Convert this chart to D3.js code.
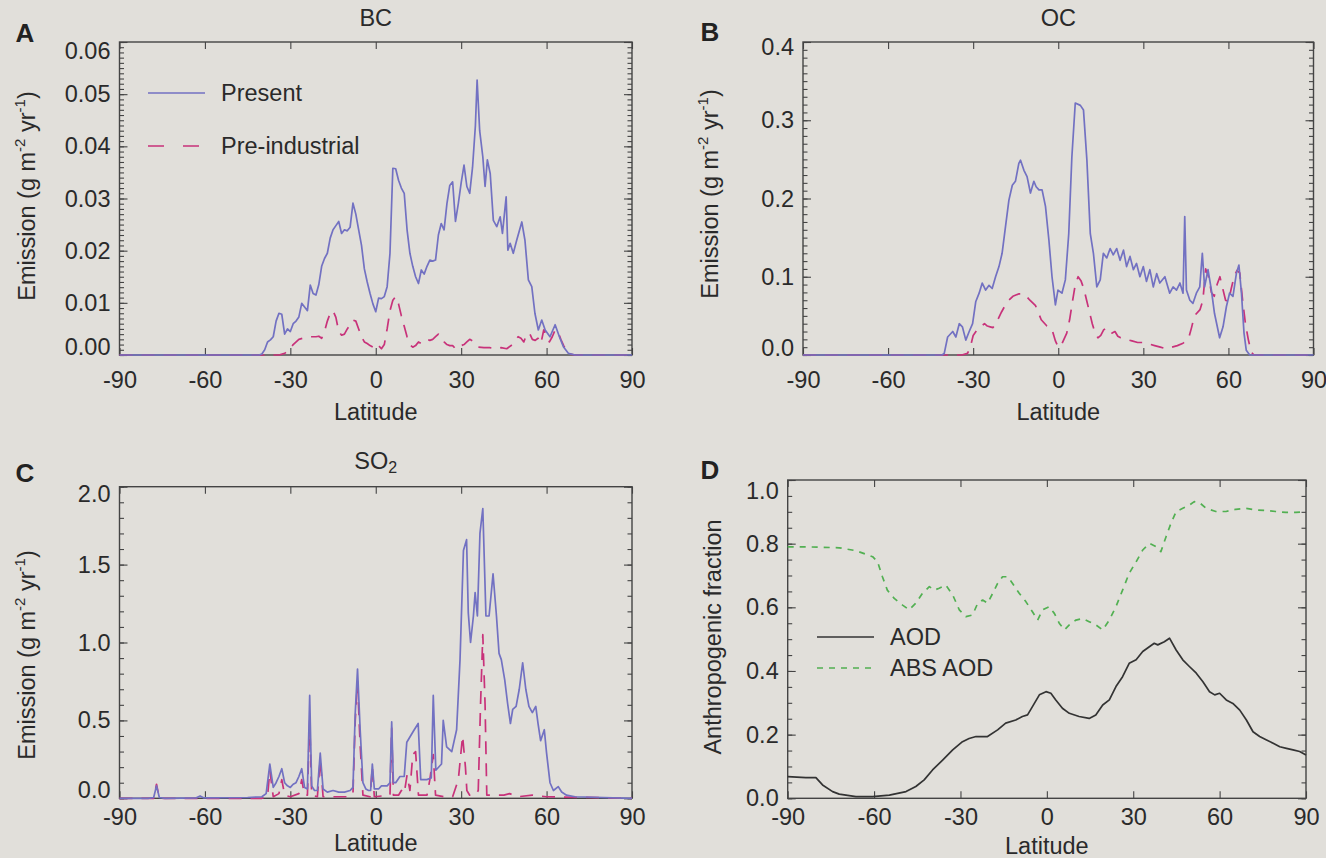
<!DOCTYPE html>
<html>
<head>
<meta charset="utf-8">
<script src="https://cdn.jsdelivr.net/npm/d3@7"></script>
<style>
  body { margin: 0; background: #e1dfda; }
  svg { display: block; font-family: "Liberation Sans", Arial, Helvetica, sans-serif; }
</style>
</head>
<body>
<svg id="fig" width="1326" height="858"></svg>
<script>
// latitude ticks shared by all panels
const latTicks = [-90, -60, -30, 0, 30, 60, 90]

// [latitude, value] pairs
const bcPresent = [[-90,0],[-60,0],[-45,0],[-41,0],[-40,0.0002],[-39,0.001],[-38,0.0025],[-37,0.0029],[-36,0.0035],[-35,0.0065],[-34,0.008],[-33,0.0078],[-32,0.004],[-31,0.005],[-30,0.0045],[-29,0.006],[-28,0.0065],[-27,0.0073],[-26,0.0099],[-25,0.0092],[-24,0.0085],[-23,0.0134],[-22,0.0118],[-21,0.0115],[-20,0.0135],[-19,0.017],[-18,0.0185],[-17,0.0195],[-16,0.0224],[-15,0.024],[-14,0.0248],[-13,0.0256],[-12,0.0233],[-11,0.024],[-10,0.0238],[-9,0.0245],[-8,0.0291],[-7,0.027],[-6,0.024],[-5,0.021],[-4,0.0165],[-3,0.014],[-2,0.0118],[-1,0.0098],[0,0.0083],[1,0.0109],[2,0.0108],[3,0.0112],[4,0.0131],[5,0.0195],[6,0.0358],[7,0.0357],[8,0.0335],[9,0.032],[10,0.031],[11,0.024],[12,0.0195],[13,0.017],[14,0.015],[15,0.0137],[16,0.0163],[17,0.0155],[18,0.017],[19,0.0182],[20,0.018],[21,0.0182],[22,0.023],[23,0.0252],[24,0.024],[25,0.029],[26,0.0325],[27,0.0332],[28,0.0256],[29,0.029],[30,0.033],[31,0.0364],[32,0.0323],[33,0.031],[34,0.036],[35,0.044],[35.6,0.0527],[36.5,0.043],[37.6,0.038],[38.4,0.0323],[39.2,0.0374],[40.2,0.0348],[41.3,0.0258],[42.5,0.0246],[43.7,0.0265],[44.5,0.0233],[45.8,0.0303],[46.4,0.0201],[47.2,0.0214],[48.3,0.0195],[49.5,0.022],[51.3,0.0255],[52.4,0.022],[53.6,0.0144],[54.8,0.0131],[55.9,0.008],[57.1,0.0048],[58.3,0.0067],[59.5,0.0048],[61.2,0.0035],[63,0.0058],[64.5,0.0035],[65.9,0.0016],[67.7,0.0003],[70,0],[90,0]]
const bcPre = [[-90,0],[-34,0],[-32,0.0003],[-30,0.0012],[-29,0.002],[-27,0.003],[-25,0.0033],[-23,0.0035],[-21,0.0035],[-20,0.0036],[-19,0.0032],[-18,0.0045],[-17,0.0065],[-16,0.008],[-15,0.0085],[-14,0.0072],[-13,0.0045],[-12,0.0038],[-11,0.004],[-10,0.005],[-9,0.0058],[-8,0.0067],[-7,0.0065],[-6,0.005],[-5,0.0035],[-4,0.0025],[-3,0.0022],[-2,0.0018],[-1,0.0015],[0,0.0022],[1,0.0018],[2,0.0012],[3,0.002],[4,0.005],[5,0.0085],[6,0.0105],[7,0.0112],[8,0.0098],[9,0.0075],[10,0.0055],[11,0.0035],[12,0.002],[13,0.0015],[14,0.0018],[15,0.0025],[16,0.0022],[17,0.0025],[18,0.003],[19,0.0028],[20,0.003],[21,0.0035],[22,0.004],[23,0.0035],[24,0.0025],[25,0.002],[26,0.0018],[27,0.0018],[28,0.0012],[29,0.0012],[30,0.0018],[31,0.002],[32,0.0025],[33,0.003],[34,0.0027],[35,0.002],[36,0.0015],[38,0.0014],[40,0.0014],[42,0.0012],[44,0.0014],[46,0.0012],[48,0.002],[50,0.0035],[51,0.0032],[52,0.0025],[53,0.004],[54,0.0042],[55,0.003],[56,0.0028],[57,0.0032],[58,0.0022],[59,0.0048],[60,0.004],[61,0.0025],[62,0.0035],[63,0.0048],[64,0.0045],[65,0.003],[66,0.0018],[67,0.0008],[68,0.0002],[70,0],[90,0]]

const ocPresent = [[-90,0],[-41,0],[-40.2,0.002],[-39,0.023],[-37.2,0.03],[-36.1,0.023],[-34.9,0.04],[-33.8,0.036],[-32.6,0.019],[-31.4,0.03],[-30.2,0.04],[-29.1,0.068],[-27.9,0.079],[-26.8,0.092],[-25.6,0.083],[-24.4,0.089],[-23.3,0.085],[-22.1,0.1],[-20.9,0.113],[-19.8,0.13],[-18.6,0.164],[-17.4,0.198],[-16.2,0.217],[-15.1,0.222],[-13.9,0.245],[-13.3,0.249],[-12.1,0.236],[-11,0.228],[-9.8,0.207],[-8.6,0.222],[-7.8,0.215],[-6.8,0.211],[-5.7,0.211],[-4.5,0.19],[-3.3,0.147],[-2.2,0.1],[-1,0.064],[-0.1,0.083],[1.3,0.079],[2.5,0.096],[3.7,0.155],[4.8,0.253],[6,0.322],[7.8,0.319],[8.9,0.313],[10.1,0.249],[11.3,0.155],[12.4,0.13],[13.6,0.087],[14.8,0.096],[15.9,0.13],[17.1,0.124],[18.3,0.136],[19.4,0.128],[20.6,0.136],[21.8,0.121],[23,0.134],[24.1,0.113],[25.3,0.126],[26.5,0.109],[27.6,0.117],[28.8,0.1],[30,0.113],[31.1,0.094],[32.3,0.109],[33.5,0.087],[34.7,0.104],[35.8,0.092],[37.6,0.1],[39.3,0.079],[40.5,0.087],[41.7,0.083],[42.9,0.092],[44,0.079],[44.6,0.177],[45.2,0.083],[46.4,0.07],[47.5,0.066],[48.7,0.079],[49.9,0.087],[50.8,0.13],[51.6,0.087],[52.8,0.109],[54,0.083],[55.1,0.053],[56.9,0.022],[58.1,0.036],[59.3,0.062],[60.4,0.079],[61.6,0.075],[62.8,0.104],[63.7,0.115],[64.6,0.079],[65.5,0.028],[66.3,0.006],[67.5,0],[90,0]]
const ocPre = [[-90,0],[-34,0],[-32,0.002],[-31,0.01],[-30,0.025],[-28,0.035],[-26,0.04],[-25,0.037],[-24,0.036],[-23,0.035],[-22,0.04],[-20,0.055],[-18,0.068],[-16,0.075],[-14,0.078],[-12,0.078],[-10,0.07],[-8,0.063],[-6,0.045],[-4,0.037],[-3,0.036],[-2,0.03],[-1,0.018],[0,0.01],[1,0.012],[2,0.02],[3,0.028],[4,0.045],[5,0.068],[6,0.09],[7,0.1],[8,0.095],[9,0.085],[10,0.07],[11,0.055],[12,0.04],[13,0.028],[14,0.022],[15,0.025],[16,0.032],[17,0.035],[18,0.03],[19,0.028],[20,0.03],[21,0.024],[22,0.022],[24,0.02],[26,0.018],[28,0.016],[30,0.016],[32,0.014],[34,0.012],[36,0.01],[38,0.008],[40,0.01],[42,0.012],[44,0.015],[46,0.022],[47,0.035],[48,0.05],[50,0.058],[51,0.07],[52,0.11],[53,0.1],[54,0.08],[55,0.075],[56,0.09],[57,0.1],[58,0.085],[59,0.07],[60,0.068],[61,0.085],[62,0.1],[63,0.108],[64,0.105],[65,0.07],[66,0.04],[67,0.02],[68,0.004],[69,0],[90,0]]

const so2Present = [[-90,0],[-80,0],[-78,0.005],[-77,0.08],[-76,0.005],[-74,0],[-63,0.003],[-61.7,0.015],[-60.5,0.003],[-45,0.005],[-40,0.01],[-38.5,0.03],[-37.2,0.22],[-36,0.07],[-35,0.1],[-34,0.14],[-33,0.19],[-32,0.1],[-31,0.08],[-30,0.07],[-29,0.09],[-28,0.1],[-27,0.14],[-26,0.19],[-25,0.07],[-24,0.06],[-23.2,0.66],[-22.5,0.08],[-21.5,0.05],[-20.5,0.05],[-19.5,0.29],[-18.5,0.06],[-17,0.04],[-15,0.05],[-13,0.04],[-11,0.04],[-9,0.05],[-8,0.07],[-7.2,0.55],[-6.4,0.83],[-5.5,0.45],[-4.5,0.1],[-3.5,0.06],[-2.5,0.05],[-1.8,0.05],[-1.2,0.22],[-0.5,0.06],[1,0.06],[2,0.08],[4,0.08],[5,0.1],[5.6,0.49],[6.2,0.1],[7,0.1],[8.5,0.14],[10,0.14],[10.9,0.36],[13.2,0.43],[14.9,0.48],[15.8,0.12],[17.9,0.12],[19.5,0.13],[20.2,0.66],[21.1,0.18],[23.1,0.22],[23.7,0.5],[24.9,0.33],[26.7,0.3],[28.4,0.44],[29.6,0.89],[30.8,1.59],[31.9,1.66],[32.5,1.19],[33.3,1.0],[34.3,1.17],[34.9,1.32],[35.7,1.17],[36.6,1.7],[37.6,1.86],[38.7,1.17],[39.8,1.17],[41.2,1.44],[42.4,1.17],[43.3,0.93],[44.1,0.89],[45.3,0.76],[46.3,0.61],[47.3,0.48],[48.1,0.57],[49.3,0.59],[50.4,0.7],[51.6,0.87],[52.7,0.7],[53.8,0.59],[55,0.55],[56.2,0.59],[57,0.48],[57.9,0.37],[59.2,0.44],[60,0.29],[61.2,0.1],[62.4,0.05],[64.1,0.075],[65.3,0.04],[67,0.02],[70,0.01],[90,0]]
const so2Pre = [[-90,0],[-78,0],[-77,0.09],[-76,0],[-40,0],[-38,0.01],[-37.2,0.18],[-36,0.01],[-34,0.03],[-33,0.12],[-32,0.02],[-30,0.01],[-27,0.03],[-26,0.12],[-25,0.02],[-24,0.02],[-23.2,0.5],[-22.5,0.02],[-20.5,0.01],[-19.5,0.25],[-18.5,0.01],[-9,0.01],[-8,0.03],[-7.2,0.5],[-6.4,0.75],[-5.5,0.35],[-4.5,0.02],[-2,0.01],[-1.2,0.2],[-0.5,0.01],[5,0.02],[5.6,0.45],[6.2,0.02],[8,0.02],[9,0.05],[10,0.03],[11,0.15],[12,0.05],[13,0.28],[14,0.3],[15,0.02],[18,0.02],[19,0.12],[20.2,0.28],[21,0.02],[24,0.01],[27,0.01],[29,0.12],[30.5,0.4],[31.5,0.2],[32,0.05],[33,0.02],[35,0.02],[36,0.05],[36.8,0.6],[37.6,1.05],[38.4,0.6],[39,0.02],[45,0.02],[47,0.03],[50,0.01],[55,0.02],[60,0.01],[90,0]]

const aod = [[-90,0.068],[-83.7,0.065],[-80.2,0.065],[-77.9,0.042],[-74.4,0.021],[-72.1,0.013],[-66.3,0.005],[-60.5,0.005],[-54.7,0.01],[-48.9,0.021],[-45.5,0.037],[-42.6,0.058],[-39.7,0.089],[-36.2,0.12],[-32.7,0.152],[-29.3,0.178],[-27,0.188],[-24.6,0.194],[-20.6,0.194],[-17.1,0.215],[-14.3,0.236],[-10.8,0.246],[-8.5,0.257],[-6.7,0.262],[-5,0.288],[-2.6,0.325],[-0.3,0.335],[1.4,0.33],[3.1,0.309],[5.4,0.283],[7.8,0.267],[11.2,0.257],[14.7,0.251],[17,0.262],[19.4,0.293],[21.7,0.309],[24,0.351],[26.3,0.382],[28.6,0.424],[31,0.435],[33.3,0.461],[35.6,0.476],[37.3,0.487],[38.5,0.482],[40.8,0.492],[42.6,0.503],[44.9,0.466],[47.2,0.435],[49.5,0.414],[51.9,0.393],[54.2,0.366],[56.5,0.335],[58.3,0.325],[60,0.33],[62.3,0.309],[64.6,0.298],[67,0.277],[69.3,0.246],[71.6,0.209],[73.9,0.194],[76.3,0.183],[78.6,0.173],[80.9,0.162],[83.2,0.157],[85.5,0.152],[87.8,0.147],[90,0.136]]
const absAod = [[-90,0.79],[-83.7,0.79],[-72.1,0.787],[-66.3,0.778],[-60.5,0.759],[-58.8,0.743],[-57.1,0.696],[-55.4,0.654],[-53,0.628],[-50.1,0.607],[-47.8,0.592],[-45.5,0.613],[-43.2,0.644],[-40.8,0.665],[-39.1,0.654],[-37.4,0.66],[-35.1,0.67],[-32.7,0.639],[-30.4,0.592],[-28.1,0.571],[-25.8,0.576],[-24,0.613],[-22.3,0.623],[-20.6,0.613],[-18.8,0.644],[-17.1,0.675],[-15.4,0.696],[-13.6,0.696],[-11.9,0.675],[-9.6,0.644],[-7.3,0.618],[-5,0.586],[-3.2,0.56],[-1.5,0.592],[0.8,0.602],[2.6,0.581],[4.3,0.55],[6.1,0.529],[7.8,0.545],[10.1,0.56],[12.4,0.565],[14.7,0.555],[17,0.545],[19.4,0.529],[21.7,0.56],[24,0.602],[26.3,0.654],[28.6,0.707],[31,0.743],[33.3,0.78],[35.6,0.801],[37.9,0.791],[39.6,0.775],[41.4,0.822],[43.1,0.864],[44.9,0.901],[47.2,0.911],[49.5,0.921],[51.2,0.932],[53,0.929],[55.3,0.911],[58.7,0.901],[62.2,0.901],[65.6,0.908],[69.1,0.911],[72.6,0.906],[76.1,0.904],[79.5,0.901],[83,0.898],[86.5,0.898],[90,0.901]]

const presentColor = '#7271c2'
const preColor = '#c8327a'
const aodColor = '#333333'
const absColor = '#52b052'
const inkColor = '#2a2a2a'
const fontSize = '23.5px'

const svg = d3.select('#fig')
svg.append('rect').attr('width', 1326).attr('height', 858).attr('fill', '#e1dfda')

const line = (x, y) => d3.line().x(d => x(d[0])).y(d => y(d[1]))

function styleAxis(g) {
  g.attr('font-size', null).attr('font-family', null).attr('color', '#444')
  g.select('.domain').remove()
  g.selectAll('line').attr('stroke-width', 1.1)
  g.selectAll('text').style('font-size', fontSize).attr('fill', inkColor)
}

function drawPanel(p) {
  const x = d3.scaleLinear().domain([-90, 90]).range([p.x0, p.x1])
  const y = d3.scaleLinear().domain([0, p.yMax]).range([p.y1, p.y0])
  const g = svg.append('g')

  // x axes (ticks point inward)
  g.append('g').attr('transform', `translate(0,${p.y1})`)
    .call(d3.axisBottom(x).tickValues(latTicks).tickSizeInner(-7).tickSizeOuter(0)
      .tickPadding(p.xPad).tickFormat(d => String(d)))
    .call(styleAxis)
  g.append('g').attr('transform', `translate(0,${p.y0})`)
    .call(d3.axisTop(x).tickValues(latTicks).tickSizeInner(-7).tickSizeOuter(0).tickFormat(''))
    .call(styleAxis)

  // y axes: majors, minors on both sides
  const majors = d3.range(0, p.yMax + p.major / 2, p.major)
  const minors = d3.range(0, p.yMax + p.minor / 2, p.minor)
  const yl = g.append('g').attr('transform', `translate(${p.x0},0)`)
    .call(d3.axisLeft(y).tickValues(majors).tickSizeInner(-8).tickSizeOuter(0)
      .tickPadding(9).tickFormat(d3.format(p.fmt)))
    .call(styleAxis)
  yl.selectAll('text').attr('y', (d, i) => i === 0 ? -p.endNudge[0] : (i === majors.length - 1 ? p.endNudge[1] : 0))
  g.append('g').attr('transform', `translate(${p.x0},0)`)
    .call(d3.axisLeft(y).tickValues(minors).tickSizeInner(-4.5).tickSizeOuter(0).tickFormat(''))
    .call(styleAxis)
  g.append('g').attr('transform', `translate(${p.x1},0)`)
    .call(d3.axisRight(y).tickValues(majors).tickSizeInner(-8).tickSizeOuter(0).tickFormat(''))
    .call(styleAxis)
  g.append('g').attr('transform', `translate(${p.x1},0)`)
    .call(d3.axisRight(y).tickValues(minors).tickSizeInner(-4.5).tickSizeOuter(0).tickFormat(''))
    .call(styleAxis)

  // frame
  g.append('rect')
    .attr('x', p.x0).attr('y', p.y0)
    .attr('width', p.x1 - p.x0).attr('height', p.y1 - p.y0)
    .attr('fill', 'none').attr('stroke', '#444').attr('stroke-width', 1.4)

  // series
  p.series.forEach(s => {
    g.append('path')
      .datum(s.data)
      .attr('d', line(x, y))
      .attr('fill', 'none')
      .attr('stroke', s.color)
      .attr('stroke-width', 1.7)
      .attr('stroke-dasharray', s.dash || null)
      .attr('stroke-linejoin', 'round')
  })

  // latitude label
  g.append('text')
    .attr('x', (p.x0 + p.x1) / 2).attr('y', p.y1 + p.latGap)
    .attr('text-anchor', 'middle').attr('dominant-baseline', 'central')
    .attr('fill', inkColor).style('font-size', fontSize)
    .text('Latitude')

  // y title
  const yt = g.append('text')
    .attr('transform', `translate(${p.yTitleX},${p.yTitleY}) rotate(-90)`)
    .attr('text-anchor', 'middle').attr('dominant-baseline', 'central')
    .attr('fill', inkColor).style('font-size', fontSize)
  if (p.yTitle === 'emission') {
    yt.append('tspan').text('Emission (g m')
    yt.append('tspan').attr('dy', -8).style('font-size', '15px').text('-2')
    yt.append('tspan').attr('dy', 8).text(' yr')
    yt.append('tspan').attr('dy', -8).style('font-size', '15px').text('-1')
    yt.append('tspan').attr('dy', 8).text(')')
  } else {
    yt.text(p.yTitle)
  }

  // panel letter
  g.append('text')
    .attr('x', p.letterX).attr('y', p.letterY)
    .attr('text-anchor', 'middle').attr('dominant-baseline', 'central')
    .attr('fill', '#222').style('font-size', '26px').style('font-weight', 'bold')
    .text(p.letter)

  // title
  if (p.title) {
    const t = g.append('text')
      .attr('x', (p.x0 + p.x1) / 2).attr('y', p.titleY)
      .attr('text-anchor', 'middle').attr('dominant-baseline', 'central')
      .attr('fill', inkColor).style('font-size', fontSize)
    t.append('tspan').text(p.title)
    if (p.titleSub) t.append('tspan').attr('dy', 6).style('font-size', '16px').text(p.titleSub)
  }

  // legend
  if (p.legend) {
    p.legend.items.forEach((it, i) => {
      const ly = p.legend.y + i * p.legend.step
      g.append('line')
        .attr('x1', p.legend.x).attr('x2', p.legend.x + p.legend.len)
        .attr('y1', ly).attr('y2', ly)
        .attr('stroke', it.color).attr('stroke-width', 1.7)
        .attr('stroke-dasharray', it.dash || null)
      g.append('text')
        .attr('x', p.legend.x + p.legend.len + 16).attr('y', ly)
        .attr('dominant-baseline', 'central')
        .attr('fill', inkColor).style('font-size', fontSize)
        .text(it.label)
    })
  }
}

const preDash = '13,9'
const absDash = '6,6'

drawPanel({
  letter: 'A', letterX: 25, letterY: 33, title: 'BC', titleY: 18,
  x0: 119.5, x1: 632, y0: 42, y1: 355, yMax: 0.06, major: 0.01, minor: 0.001, fmt: '.2f',
  endNudge: [8, 9], xPad: 16, latGap: 57,
  yTitle: 'emission', yTitleX: 27, yTitleY: 196,
  series: [
    { data: bcPre, color: preColor, dash: preDash },
    { data: bcPresent, color: presentColor }
  ],
  legend: { x: 148, y: 93, step: 53, len: 57, items: [
    { label: 'Present', color: presentColor },
    { label: 'Pre-industrial', color: preColor, dash: '16,19' }
  ] }
})

drawPanel({
  letter: 'B', letterX: 710, letterY: 32, title: 'OC', titleY: 18,
  x0: 803, x1: 1313.5, y0: 42, y1: 355, yMax: 0.4, major: 0.1, minor: 0.01, fmt: '.1f',
  endNudge: [7, 5], xPad: 16, latGap: 57,
  yTitle: 'emission', yTitleX: 710, yTitleY: 194,
  series: [
    { data: ocPre, color: preColor, dash: preDash },
    { data: ocPresent, color: presentColor }
  ]
})

drawPanel({
  letter: 'C', letterX: 25, letterY: 473, title: 'SO', titleSub: '2', titleY: 461,
  x0: 119.5, x1: 632, y0: 486.7, y1: 798.3, yMax: 2.0, major: 0.5, minor: 0.1, fmt: '.1f',
  endNudge: [8, 7], xPad: 10, latGap: 45,
  yTitle: 'emission', yTitleX: 27, yTitleY: 655,
  series: [
    { data: so2Pre, color: preColor, dash: preDash },
    { data: so2Present, color: presentColor }
  ]
})

drawPanel({
  letter: 'D', letterX: 710, letterY: 470,
  x0: 787.7, x1: 1306, y0: 480, y1: 798.3, yMax: 1.0, major: 0.2, minor: 0.05, fmt: '.1f',
  endNudge: [0, 11], xPad: 10, latGap: 48,
  yTitle: 'Anthropogenic fraction', yTitleX: 713, yTitleY: 637,
  series: [
    { data: absAod, color: absColor, dash: absDash },
    { data: aod, color: aodColor }
  ],
  legend: { x: 817, y: 637, step: 31, len: 57, items: [
    { label: 'AOD', color: aodColor },
    { label: 'ABS AOD', color: absColor, dash: absDash }
  ] }
})
</script>
</body>
</html>
